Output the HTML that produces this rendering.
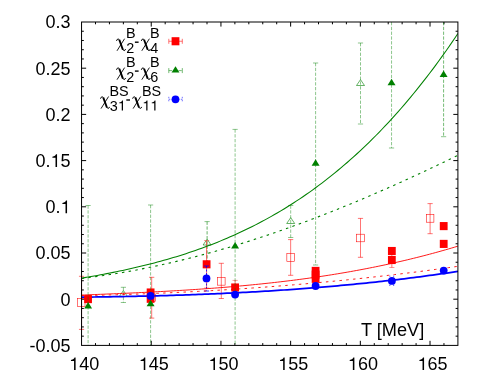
<!DOCTYPE html>
<html><head><meta charset="utf-8"><title>chart</title>
<style>html,body{margin:0;padding:0;background:#fff;}body{width:491px;height:382px;position:relative;overflow:hidden;font-family:"Liberation Sans",sans-serif;}</style>
</head><body>
<svg width="491" height="382" viewBox="0 0 491 382" style="position:absolute;left:0;top:0;font-family:'Liberation Sans',sans-serif">
<rect width="491" height="382" fill="#fff"/>
<defs><clipPath id="cp"><rect x="81.55" y="22.0" width="376.34999999999997" height="323.4"/></clipPath></defs>
<g font-size="18" fill="#000" style="filter:grayscale(1)">
<path d="M75.60,370.10V357.45H74.52C74.32,358.58 73.19,359.57 70.96,359.97V361.01H74.07V370.10Z" fill="#000"/><text x="79.15" y="370.10" font-size="18">40</text>
<path d="M145.29,370.10V357.45H144.21C144.02,358.58 142.88,359.57 140.65,359.97V361.01H143.76V370.10Z" fill="#000"/><text x="148.84" y="370.10" font-size="18">45</text>
<path d="M214.99,370.10V357.45H213.91C213.71,358.58 212.58,359.57 210.34,359.97V361.01H213.46V370.10Z" fill="#000"/><text x="218.53" y="370.10" font-size="18">50</text>
<path d="M284.68,370.10V357.45H283.60C283.41,358.58 282.27,359.57 280.04,359.97V361.01H283.15V370.10Z" fill="#000"/><text x="288.23" y="370.10" font-size="18">55</text>
<path d="M354.38,370.10V357.45H353.30C353.10,358.58 351.97,359.57 349.73,359.97V361.01H352.85V370.10Z" fill="#000"/><text x="357.92" y="370.10" font-size="18">60</text>
<path d="M424.07,370.10V357.45H422.99C422.79,358.58 421.66,359.57 419.43,359.97V361.01H422.54V370.10Z" fill="#000"/><text x="427.62" y="370.10" font-size="18">65</text>
<text x="29.58" y="351.75" font-size="18">-0.05</text>
<text x="60.59" y="305.55" font-size="18">0</text>
<text x="35.57" y="259.35" font-size="18">0.05</text>
<text x="45.58" y="213.15" font-size="18">0.</text><path d="M67.05,213.15V200.50H65.97C65.78,201.63 64.64,202.62 62.41,203.02V204.06H65.52V213.15Z" fill="#000"/>
<text x="35.57" y="166.95" font-size="18">0.</text><path d="M57.05,166.95V154.30H55.97C55.77,155.43 54.63,156.42 52.40,156.82V157.86H55.52V166.95Z" fill="#000"/><text x="60.59" y="166.95" font-size="18">5</text>
<text x="45.58" y="120.75" font-size="18">0.2</text>
<text x="35.57" y="74.55" font-size="18">0.25</text>
<text x="45.58" y="28.35" font-size="18">0.3</text>
<text transform="translate(360.9,336.4) scale(1.012,1.05)" x="0" y="0">T [MeV]</text>
</g>
<path d="M95.49,345.4 v-2.3 M95.49,22.0 v2.3 M109.43,345.4 v-2.3 M109.43,22.0 v2.3 M123.37,345.4 v-2.3 M123.37,22.0 v2.3 M137.31,345.4 v-2.3 M137.31,22.0 v2.3 M151.24,345.4 v-4.6 M151.24,22.0 v4.6 M165.18,345.4 v-2.3 M165.18,22.0 v2.3 M179.12,345.4 v-2.3 M179.12,22.0 v2.3 M193.06,345.4 v-2.3 M193.06,22.0 v2.3 M207.00,345.4 v-2.3 M207.00,22.0 v2.3 M220.94,345.4 v-4.6 M220.94,22.0 v4.6 M234.88,345.4 v-2.3 M234.88,22.0 v2.3 M248.82,345.4 v-2.3 M248.82,22.0 v2.3 M262.76,345.4 v-2.3 M262.76,22.0 v2.3 M276.69,345.4 v-2.3 M276.69,22.0 v2.3 M290.63,345.4 v-4.6 M290.63,22.0 v4.6 M304.57,345.4 v-2.3 M304.57,22.0 v2.3 M318.51,345.4 v-2.3 M318.51,22.0 v2.3 M332.45,345.4 v-2.3 M332.45,22.0 v2.3 M346.39,345.4 v-2.3 M346.39,22.0 v2.3 M360.33,345.4 v-4.6 M360.33,22.0 v4.6 M374.27,345.4 v-2.3 M374.27,22.0 v2.3 M388.21,345.4 v-2.3 M388.21,22.0 v2.3 M402.14,345.4 v-2.3 M402.14,22.0 v2.3 M416.08,345.4 v-2.3 M416.08,22.0 v2.3 M430.02,345.4 v-4.6 M430.02,22.0 v4.6 M443.96,345.4 v-2.3 M443.96,22.0 v2.3 M81.55,336.16 h2.3 M457.9,336.16 h-2.3 M81.55,326.92 h2.3 M457.9,326.92 h-2.3 M81.55,317.68 h2.3 M457.9,317.68 h-2.3 M81.55,308.44 h2.3 M457.9,308.44 h-2.3 M81.55,299.20 h4.6 M457.9,299.20 h-4.6 M81.55,289.96 h2.3 M457.9,289.96 h-2.3 M81.55,280.72 h2.3 M457.9,280.72 h-2.3 M81.55,271.48 h2.3 M457.9,271.48 h-2.3 M81.55,262.24 h2.3 M457.9,262.24 h-2.3 M81.55,253.00 h4.6 M457.9,253.00 h-4.6 M81.55,243.76 h2.3 M457.9,243.76 h-2.3 M81.55,234.52 h2.3 M457.9,234.52 h-2.3 M81.55,225.28 h2.3 M457.9,225.28 h-2.3 M81.55,216.04 h2.3 M457.9,216.04 h-2.3 M81.55,206.80 h4.6 M457.9,206.80 h-4.6 M81.55,197.56 h2.3 M457.9,197.56 h-2.3 M81.55,188.32 h2.3 M457.9,188.32 h-2.3 M81.55,179.08 h2.3 M457.9,179.08 h-2.3 M81.55,169.84 h2.3 M457.9,169.84 h-2.3 M81.55,160.60 h4.6 M457.9,160.60 h-4.6 M81.55,151.36 h2.3 M457.9,151.36 h-2.3 M81.55,142.12 h2.3 M457.9,142.12 h-2.3 M81.55,132.88 h2.3 M457.9,132.88 h-2.3 M81.55,123.64 h2.3 M457.9,123.64 h-2.3 M81.55,114.40 h4.6 M457.9,114.40 h-4.6 M81.55,105.16 h2.3 M457.9,105.16 h-2.3 M81.55,95.92 h2.3 M457.9,95.92 h-2.3 M81.55,86.68 h2.3 M457.9,86.68 h-2.3 M81.55,77.44 h2.3 M457.9,77.44 h-2.3 M81.55,68.20 h4.6 M457.9,68.20 h-4.6 M81.55,58.96 h2.3 M457.9,58.96 h-2.3 M81.55,49.72 h2.3 M457.9,49.72 h-2.3 M81.55,40.48 h2.3 M457.9,40.48 h-2.3 M81.55,31.24 h2.3 M457.9,31.24 h-2.3" stroke="#000" stroke-width="1" fill="none"/>
<path d="M81.55,276.30 V329.40" stroke="#ff0000" stroke-width="0.55" fill="none" opacity="1"/><path d="M78.95,276.30 H84.15" stroke="#ff0000" stroke-width="0.55" opacity="1"/><path d="M78.95,329.40 H84.15" stroke="#ff0000" stroke-width="0.55" opacity="1"/>
<rect x="77.40" y="298.70" width="7.60" height="7.60" fill="none" stroke="#ff0000" stroke-width="0.55"/>
<path d="M151.70,277.30 V318.10" stroke="#ff0000" stroke-width="0.55" fill="none" opacity="1"/><path d="M149.10,277.30 H154.30" stroke="#ff0000" stroke-width="0.55" opacity="1"/><path d="M149.10,318.10 H154.30" stroke="#ff0000" stroke-width="0.55" opacity="1"/>
<rect x="147.90" y="293.90" width="7.60" height="7.60" fill="none" stroke="#ff0000" stroke-width="0.55"/>
<path d="M221.30,263.30 V298.50" stroke="#ff0000" stroke-width="0.55" fill="none" opacity="1"/><path d="M218.70,263.30 H223.90" stroke="#ff0000" stroke-width="0.55" opacity="1"/><path d="M218.70,298.50 H223.90" stroke="#ff0000" stroke-width="0.55" opacity="1"/>
<rect x="217.50" y="277.55" width="7.60" height="7.60" fill="none" stroke="#ff0000" stroke-width="0.55"/>
<path d="M290.65,239.60 V275.30" stroke="#ff0000" stroke-width="0.55" fill="none" opacity="1"/><path d="M288.05,239.60 H293.25" stroke="#ff0000" stroke-width="0.55" opacity="1"/><path d="M288.05,275.30 H293.25" stroke="#ff0000" stroke-width="0.55" opacity="1"/>
<rect x="286.85" y="253.70" width="7.60" height="7.60" fill="none" stroke="#ff0000" stroke-width="0.55"/>
<path d="M360.50,218.40 V257.30" stroke="#ff0000" stroke-width="0.55" fill="none" opacity="1"/><path d="M357.90,218.40 H363.10" stroke="#ff0000" stroke-width="0.55" opacity="1"/><path d="M357.90,257.30 H363.10" stroke="#ff0000" stroke-width="0.55" opacity="1"/>
<rect x="356.70" y="234.20" width="7.60" height="7.60" fill="none" stroke="#ff0000" stroke-width="0.55"/>
<path d="M430.10,203.60 V233.70" stroke="#ff0000" stroke-width="0.55" fill="none" opacity="1"/><path d="M427.50,203.60 H432.70" stroke="#ff0000" stroke-width="0.55" opacity="1"/><path d="M427.50,233.70 H432.70" stroke="#ff0000" stroke-width="0.55" opacity="1"/>
<rect x="426.30" y="214.60" width="7.60" height="7.60" fill="none" stroke="#ff0000" stroke-width="0.55"/>
<path d="M123.40,287.30 V302.50" stroke="#008000" stroke-width="0.45" fill="none" stroke-dasharray="3.3 1.5" opacity="1"/><path d="M120.80,287.30 H126.00" stroke="#008000" stroke-width="0.45" opacity="1"/><path d="M120.80,302.50 H126.00" stroke="#008000" stroke-width="0.45" opacity="1"/>
<path d="M123.40,290.55 L119.40,296.40 H127.40 Z" fill="none" stroke="#008000" stroke-width="0.6"/>
<path d="M207.10,221.60 V265.40" stroke="#008000" stroke-width="0.6" fill="none" stroke-dasharray="3.3 1.5" opacity="1"/><path d="M204.50,221.60 H209.70" stroke="#008000" stroke-width="0.45" opacity="1"/><path d="M204.50,265.40 H209.70" stroke="#008000" stroke-width="0.45" opacity="1"/>
<path d="M207.10,239.15 L203.10,245.00 H211.10 Z" fill="none" stroke="#008000" stroke-width="0.6"/>
<path d="M290.70,205.50 V237.50" stroke="#008000" stroke-width="0.45" fill="none" stroke-dasharray="3.3 1.5" opacity="1"/><path d="M288.10,205.50 H293.30" stroke="#008000" stroke-width="0.45" opacity="1"/><path d="M288.10,237.50 H293.30" stroke="#008000" stroke-width="0.45" opacity="1"/>
<path d="M290.70,217.65 L286.70,223.50 H294.70 Z" fill="none" stroke="#008000" stroke-width="0.6"/>
<path d="M360.50,43.00 V124.00" stroke="#008000" stroke-width="0.45" fill="none" stroke-dasharray="3.3 1.5" opacity="1"/><path d="M357.90,43.00 H363.10" stroke="#008000" stroke-width="0.45" opacity="1"/><path d="M357.90,124.00 H363.10" stroke="#008000" stroke-width="0.45" opacity="1"/>
<path d="M360.50,79.65 L356.50,85.50 H364.50 Z" fill="none" stroke="#008000" stroke-width="0.6"/>
<path d="M206.60,240.60 V288.00" stroke="#ff0000" stroke-width="0.6" fill="none" opacity="1"/><path d="M204.00,240.60 H209.20" stroke="#ff0000" stroke-width="0.4" opacity="1"/><path d="M204.00,288.00 H209.20" stroke="#ff0000" stroke-width="0.4" opacity="1"/>
<rect x="202.70" y="260.25" width="7.80" height="8.10" fill="#ff0000"/>
<path d="M206.50,266.00 V291.00" stroke="#0000ff" stroke-width="0.8" fill="none" stroke-dasharray="2 1.5" opacity="1"/><path d="M203.90,266.00 H209.10" stroke="#0000ff" stroke-width="0.8" opacity="1"/><path d="M203.90,291.00 H209.10" stroke="#0000ff" stroke-width="0.8" opacity="1"/>
<circle cx="206.50" cy="278.40" r="3.9" fill="#0000ff"/>
<g clip-path="url(#cp)">
<path d="M81.55,278.15 L84.71,277.62 L87.88,277.09 L91.04,276.54 L94.20,275.98 L97.36,275.41 L100.53,274.82 L103.69,274.23 L106.85,273.63 L110.01,273.01 L113.18,272.38 L116.34,271.74 L119.50,271.09 L122.66,270.42 L125.83,269.74 L128.99,269.04 L132.15,268.33 L135.31,267.61 L138.48,266.86 L141.64,266.11 L144.80,265.34 L147.96,264.55 L151.13,263.74 L154.29,262.91 L157.45,262.07 L160.62,261.21 L163.78,260.33 L166.94,259.44 L170.10,258.52 L173.27,257.58 L176.43,256.63 L179.59,255.65 L182.75,254.65 L185.92,253.63 L189.08,252.59 L192.24,251.52 L195.40,250.44 L198.57,249.33 L201.73,248.19 L204.89,247.03 L208.05,245.85 L211.22,244.64 L214.38,243.41 L217.54,242.15 L220.70,240.87 L223.87,239.55 L227.03,238.21 L230.19,236.85 L233.36,235.45 L236.52,234.03 L239.68,232.58 L242.84,231.10 L246.01,229.58 L249.17,228.04 L252.33,226.47 L255.49,224.86 L258.66,223.23 L261.82,221.56 L264.98,219.86 L268.14,218.12 L271.31,216.35 L274.47,214.55 L277.63,212.71 L280.79,210.84 L283.96,208.93 L287.12,206.99 L290.28,205.01 L293.44,202.99 L296.61,200.93 L299.77,198.84 L302.93,196.70 L306.09,194.53 L309.26,192.32 L312.42,190.07 L315.58,187.77 L318.75,185.44 L321.91,183.06 L325.07,180.64 L328.23,178.18 L331.40,175.68 L334.56,173.13 L337.72,170.53 L340.88,167.90 L344.05,165.21 L347.21,162.48 L350.37,159.70 L353.53,156.88 L356.70,154.01 L359.86,151.09 L363.02,148.12 L366.18,145.10 L369.35,142.04 L372.51,138.92 L375.67,135.75 L378.83,132.53 L382.00,129.25 L385.16,125.93 L388.32,122.55 L391.49,119.12 L394.65,115.63 L397.81,112.09 L400.97,108.49 L404.14,104.84 L407.30,101.12 L410.46,97.36 L413.62,93.53 L416.79,89.65 L419.95,85.70 L423.11,81.70 L426.27,77.63 L429.44,73.51 L432.60,69.32 L435.76,65.08 L438.92,60.76 L442.09,56.39 L445.25,51.95 L448.41,47.45 L451.57,42.88 L454.74,38.25 L457.90,33.55" stroke="#008000" stroke-width="1.05" fill="none"/>
<path d="M81.55,278.46 L84.71,278.07 L87.88,277.68 L91.04,277.27 L94.20,276.85 L97.36,276.41 L100.53,275.96 L103.69,275.50 L106.85,275.03 L110.01,274.54 L113.18,274.04 L116.34,273.53 L119.50,273.00 L122.66,272.46 L125.83,271.91 L128.99,271.34 L132.15,270.77 L135.31,270.18 L138.48,269.57 L141.64,268.96 L144.80,268.33 L147.96,267.69 L151.13,267.04 L154.29,266.38 L157.45,265.70 L160.62,265.01 L163.78,264.31 L166.94,263.60 L170.10,262.88 L173.27,262.14 L176.43,261.40 L179.59,260.64 L182.75,259.87 L185.92,259.09 L189.08,258.29 L192.24,257.49 L195.40,256.67 L198.57,255.84 L201.73,255.00 L204.89,254.15 L208.05,253.29 L211.22,252.42 L214.38,251.54 L217.54,250.64 L220.70,249.74 L223.87,248.82 L227.03,247.90 L230.19,246.96 L233.36,246.01 L236.52,245.05 L239.68,244.08 L242.84,243.10 L246.01,242.11 L249.17,241.11 L252.33,240.10 L255.49,239.08 L258.66,238.05 L261.82,237.01 L264.98,235.96 L268.14,234.90 L271.31,233.83 L274.47,232.75 L277.63,231.66 L280.79,230.56 L283.96,229.45 L287.12,228.33 L290.28,227.20 L293.44,226.06 L296.61,224.91 L299.77,223.75 L302.93,222.59 L306.09,221.41 L309.26,220.23 L312.42,219.03 L315.58,217.83 L318.75,216.62 L321.91,215.40 L325.07,214.16 L328.23,212.93 L331.40,211.68 L334.56,210.42 L337.72,209.16 L340.88,207.88 L344.05,206.60 L347.21,205.31 L350.37,204.01 L353.53,202.71 L356.70,201.39 L359.86,200.07 L363.02,198.73 L366.18,197.39 L369.35,196.05 L372.51,194.69 L375.67,193.33 L378.83,191.96 L382.00,190.58 L385.16,189.19 L388.32,187.79 L391.49,186.39 L394.65,184.98 L397.81,183.57 L400.97,182.14 L404.14,180.71 L407.30,179.27 L410.46,177.82 L413.62,176.37 L416.79,174.91 L419.95,173.44 L423.11,171.97 L426.27,170.48 L429.44,168.99 L432.60,167.50 L435.76,166.00 L438.92,164.49 L442.09,162.97 L445.25,161.45 L448.41,159.92 L451.57,158.39 L454.74,156.85 L457.90,155.30" stroke="#008000" stroke-width="1.1" fill="none" stroke-dasharray="2.5 4.3"/>
<path d="M81.55,295.07 L84.71,294.95 L87.88,294.83 L91.04,294.70 L94.20,294.58 L97.36,294.45 L100.53,294.32 L103.69,294.19 L106.85,294.06 L110.01,293.93 L113.18,293.80 L116.34,293.67 L119.50,293.53 L122.66,293.39 L125.83,293.25 L128.99,293.11 L132.15,292.97 L135.31,292.82 L138.48,292.67 L141.64,292.52 L144.80,292.37 L147.96,292.21 L151.13,292.05 L154.29,291.89 L157.45,291.72 L160.62,291.55 L163.78,291.38 L166.94,291.21 L170.10,291.03 L173.27,290.85 L176.43,290.66 L179.59,290.47 L182.75,290.28 L185.92,290.08 L189.08,289.88 L192.24,289.68 L195.40,289.47 L198.57,289.25 L201.73,289.03 L204.89,288.81 L208.05,288.58 L211.22,288.35 L214.38,288.11 L217.54,287.87 L220.70,287.62 L223.87,287.36 L227.03,287.11 L230.19,286.84 L233.36,286.57 L236.52,286.29 L239.68,286.01 L242.84,285.72 L246.01,285.43 L249.17,285.13 L252.33,284.82 L255.49,284.51 L258.66,284.19 L261.82,283.87 L264.98,283.53 L268.14,283.19 L271.31,282.85 L274.47,282.49 L277.63,282.13 L280.79,281.76 L283.96,281.39 L287.12,281.01 L290.28,280.62 L293.44,280.22 L296.61,279.81 L299.77,279.40 L302.93,278.98 L306.09,278.55 L309.26,278.11 L312.42,277.66 L315.58,277.20 L318.75,276.74 L321.91,276.27 L325.07,275.79 L328.23,275.30 L331.40,274.80 L334.56,274.29 L337.72,273.77 L340.88,273.24 L344.05,272.71 L347.21,272.16 L350.37,271.61 L353.53,271.04 L356.70,270.46 L359.86,269.88 L363.02,269.28 L366.18,268.68 L369.35,268.06 L372.51,267.43 L375.67,266.80 L378.83,266.15 L382.00,265.49 L385.16,264.82 L388.32,264.14 L391.49,263.45 L394.65,262.75 L397.81,262.03 L400.97,261.31 L404.14,260.57 L407.30,259.82 L410.46,259.06 L413.62,258.29 L416.79,257.50 L419.95,256.71 L423.11,255.90 L426.27,255.08 L429.44,254.24 L432.60,253.40 L435.76,252.54 L438.92,251.67 L442.09,250.78 L445.25,249.89 L448.41,248.97 L451.57,248.05 L454.74,247.11 L457.90,246.16" stroke="#ff0000" stroke-width="0.9" fill="none"/>
<path d="M81.55,295.62 L84.71,295.56 L87.88,295.49 L91.04,295.42 L94.20,295.35 L97.36,295.27 L100.53,295.20 L103.69,295.11 L106.85,295.03 L110.01,294.94 L113.18,294.86 L116.34,294.76 L119.50,294.67 L122.66,294.57 L125.83,294.47 L128.99,294.37 L132.15,294.26 L135.31,294.15 L138.48,294.04 L141.64,293.92 L144.80,293.81 L147.96,293.69 L151.13,293.56 L154.29,293.44 L157.45,293.31 L160.62,293.17 L163.78,293.04 L166.94,292.90 L170.10,292.76 L173.27,292.61 L176.43,292.47 L179.59,292.32 L182.75,292.16 L185.92,292.01 L189.08,291.85 L192.24,291.69 L195.40,291.52 L198.57,291.35 L201.73,291.18 L204.89,291.01 L208.05,290.83 L211.22,290.65 L214.38,290.46 L217.54,290.28 L220.70,290.09 L223.87,289.89 L227.03,289.70 L230.19,289.50 L233.36,289.30 L236.52,289.09 L239.68,288.88 L242.84,288.67 L246.01,288.45 L249.17,288.24 L252.33,288.01 L255.49,287.79 L258.66,287.56 L261.82,287.33 L264.98,287.10 L268.14,286.86 L271.31,286.62 L274.47,286.37 L277.63,286.13 L280.79,285.87 L283.96,285.62 L287.12,285.36 L290.28,285.10 L293.44,284.84 L296.61,284.57 L299.77,284.30 L302.93,284.03 L306.09,283.75 L309.26,283.47 L312.42,283.18 L315.58,282.90 L318.75,282.61 L321.91,282.31 L325.07,282.02 L328.23,281.71 L331.40,281.41 L334.56,281.10 L337.72,280.79 L340.88,280.48 L344.05,280.16 L347.21,279.84 L350.37,279.51 L353.53,279.18 L356.70,278.85 L359.86,278.52 L363.02,278.18 L366.18,277.83 L369.35,277.49 L372.51,277.14 L375.67,276.79 L378.83,276.43 L382.00,276.07 L385.16,275.70 L388.32,275.34 L391.49,274.97 L394.65,274.59 L397.81,274.21 L400.97,273.83 L404.14,273.45 L407.30,273.06 L410.46,272.67 L413.62,272.27 L416.79,271.87 L419.95,271.47 L423.11,271.06 L426.27,270.65 L429.44,270.23 L432.60,269.81 L435.76,269.39 L438.92,268.97 L442.09,268.54 L445.25,268.10 L448.41,267.67 L451.57,267.23 L454.74,266.78 L457.90,266.33" stroke="#ff0000" stroke-width="0.9" fill="none" stroke-dasharray="2.5 4.3"/>
<path d="M81.55,297.15 L84.71,297.12 L87.88,297.08 L91.04,297.04 L94.20,297.00 L97.36,296.96 L100.53,296.92 L103.69,296.87 L106.85,296.82 L110.01,296.77 L113.18,296.72 L116.34,296.67 L119.50,296.61 L122.66,296.56 L125.83,296.50 L128.99,296.43 L132.15,296.37 L135.31,296.30 L138.48,296.23 L141.64,296.16 L144.80,296.09 L147.96,296.01 L151.13,295.94 L154.29,295.85 L157.45,295.77 L160.62,295.69 L163.78,295.60 L166.94,295.51 L170.10,295.41 L173.27,295.32 L176.43,295.22 L179.59,295.12 L182.75,295.01 L185.92,294.90 L189.08,294.79 L192.24,294.68 L195.40,294.56 L198.57,294.45 L201.73,294.32 L204.89,294.20 L208.05,294.07 L211.22,293.94 L214.38,293.81 L217.54,293.67 L220.70,293.53 L223.87,293.39 L227.03,293.24 L230.19,293.09 L233.36,292.93 L236.52,292.78 L239.68,292.62 L242.84,292.45 L246.01,292.29 L249.17,292.12 L252.33,291.94 L255.49,291.76 L258.66,291.58 L261.82,291.40 L264.98,291.21 L268.14,291.02 L271.31,290.82 L274.47,290.62 L277.63,290.42 L280.79,290.21 L283.96,290.00 L287.12,289.78 L290.28,289.56 L293.44,289.34 L296.61,289.11 L299.77,288.88 L302.93,288.65 L306.09,288.41 L309.26,288.16 L312.42,287.92 L315.58,287.66 L318.75,287.41 L321.91,287.15 L325.07,286.88 L328.23,286.61 L331.40,286.34 L334.56,286.06 L337.72,285.78 L340.88,285.49 L344.05,285.20 L347.21,284.90 L350.37,284.60 L353.53,284.30 L356.70,283.99 L359.86,283.67 L363.02,283.36 L366.18,283.03 L369.35,282.70 L372.51,282.37 L375.67,282.03 L378.83,281.69 L382.00,281.34 L385.16,280.98 L388.32,280.63 L391.49,280.26 L394.65,279.89 L397.81,279.52 L400.97,279.14 L404.14,278.76 L407.30,278.37 L410.46,277.97 L413.62,277.57 L416.79,277.17 L419.95,276.76 L423.11,276.34 L426.27,275.92 L429.44,275.49 L432.60,275.06 L435.76,274.62 L438.92,274.18 L442.09,273.73 L445.25,273.28 L448.41,272.82 L451.57,272.35 L454.74,271.88 L457.90,271.40" stroke="#0000ff" stroke-width="1.75" fill="none"/>
</g>
<rect x="84.15" y="295.05" width="7.80" height="8.10" fill="#ff0000"/>
<rect x="146.70" y="288.45" width="7.80" height="8.10" fill="#ff0000"/>
<rect x="146.70" y="294.75" width="7.80" height="8.10" fill="#ff0000"/>
<path d="M235.10,280.40 V294.60" stroke="#ff0000" stroke-width="0.55" fill="none" opacity="1"/><path d="M232.50,280.40 H237.70" stroke="#ff0000" stroke-width="0.4" opacity="1"/><path d="M232.50,294.60 H237.70" stroke="#ff0000" stroke-width="0.4" opacity="1"/>
<rect x="231.20" y="283.45" width="7.80" height="8.10" fill="#ff0000"/>
<rect x="311.70" y="266.85" width="7.80" height="8.10" fill="#ff0000"/>
<rect x="311.70" y="270.55" width="7.80" height="8.10" fill="#ff0000"/>
<rect x="311.70" y="274.75" width="7.80" height="8.10" fill="#ff0000"/>
<rect x="387.95" y="246.95" width="7.80" height="8.10" fill="#ff0000"/>
<path d="M391.85,252.10 V267.50" stroke="#ff0000" stroke-width="0.55" fill="none" opacity="1"/><path d="M389.25,252.10 H394.45" stroke="#ff0000" stroke-width="0.4" opacity="1"/><path d="M389.25,267.50 H394.45" stroke="#ff0000" stroke-width="0.4" opacity="1"/>
<rect x="387.95" y="255.95" width="7.80" height="8.10" fill="#ff0000"/>
<rect x="439.80" y="222.05" width="7.80" height="8.10" fill="#ff0000"/>
<rect x="439.80" y="239.85" width="7.80" height="8.10" fill="#ff0000"/>
<path d="M88.10,205.50 V345.40" stroke="#008000" stroke-width="0.45" fill="none" stroke-dasharray="3.3 1.5" opacity="1"/><path d="M85.50,205.50 H90.70" stroke="#008000" stroke-width="0.45" opacity="1"/>
<path d="M88.10,302.04 L84.12,308.49 H92.08 Z" fill="#008000"/>
<path d="M150.60,205.00 V345.40" stroke="#008000" stroke-width="0.45" fill="none" stroke-dasharray="3.3 1.5" opacity="1"/><path d="M148.00,205.00 H153.20" stroke="#008000" stroke-width="0.45" opacity="1"/>
<path d="M150.60,299.74 L146.62,306.19 H154.58 Z" fill="#008000"/>
<path d="M235.10,129.40 V345.40" stroke="#008000" stroke-width="0.45" fill="none" stroke-dasharray="3.3 1.5" opacity="1"/><path d="M232.50,129.40 H237.70" stroke="#008000" stroke-width="0.45" opacity="1"/>
<path d="M235.10,241.94 L231.12,248.39 H239.08 Z" fill="#008000"/>
<path d="M315.60,63.00 V265.00" stroke="#008000" stroke-width="0.45" fill="none" stroke-dasharray="3.3 1.5" opacity="1"/><path d="M313.00,63.00 H318.20" stroke="#008000" stroke-width="0.45" opacity="1"/><path d="M313.00,265.00 H318.20" stroke="#008000" stroke-width="0.45" opacity="1"/>
<path d="M315.60,159.24 L311.62,165.69 H319.58 Z" fill="#008000"/>
<path d="M391.55,22.00 V148.00" stroke="#008000" stroke-width="0.45" fill="none" stroke-dasharray="3.3 1.5" opacity="1"/><path d="M388.95,148.00 H394.15" stroke="#008000" stroke-width="0.45" opacity="1"/>
<path d="M391.55,78.84 L387.57,85.29 H395.53 Z" fill="#008000"/>
<path d="M443.60,22.00 V136.70" stroke="#008000" stroke-width="0.55" fill="none" stroke-dasharray="3.3 1.5" opacity="1"/><path d="M441.00,136.70 H446.20" stroke="#008000" stroke-width="0.45" opacity="1"/>
<path d="M443.60,70.54 L439.62,76.99 H447.58 Z" fill="#008000"/>
<circle cx="150.60" cy="295.90" r="3.9" fill="#0000ff"/>
<circle cx="235.10" cy="294.60" r="3.9" fill="#0000ff"/>
<circle cx="315.60" cy="286.00" r="3.9" fill="#0000ff"/>
<circle cx="391.90" cy="280.90" r="3.9" fill="#0000ff"/>
<circle cx="443.70" cy="270.60" r="3.9" fill="#0000ff"/>
<path d="M389.2,276.2 h1.2 M393,276.2 h1.2 M389.2,285.4 h1.2 M393,285.4 h1.2" stroke="#0000ff" stroke-width="0.9" opacity="0.7"/>
<rect x="81.55" y="22.0" width="376.34999999999997" height="323.4" stroke="#000" stroke-width="1" fill="none"/>
<g fill="#000" style="filter:grayscale(1)"><g transform="translate(116.0,47.4)" fill="none" stroke="#000"><path d="M0.5,-6.5 Q0.9,-8.4 2.2,-8.4 Q3.0,-8.4 3.6,-7.0" stroke-width="1.0"/><path d="M3.3,-7.6 L6.9,2.3" stroke-width="1.9"/><path d="M6.6,1.6 Q7.3,3.2 8.2,3.2 Q9.2,3.2 9.5,1.7" stroke-width="1.0"/><path d="M8.6,-8.7 L1.0,3.4" stroke-width="0.9"/></g><text x="126.30" y="52.80" font-size="14.4">2</text><text x="126.0" y="38.0" font-size="14.4">B</text><path d="M134.9,42.199999999999996 h3.7" stroke="#000" stroke-width="1.4"/><g transform="translate(140.8,47.4)" fill="none" stroke="#000"><path d="M0.5,-6.5 Q0.9,-8.4 2.2,-8.4 Q3.0,-8.4 3.6,-7.0" stroke-width="1.0"/><path d="M3.3,-7.6 L6.9,2.3" stroke-width="1.9"/><path d="M6.6,1.6 Q7.3,3.2 8.2,3.2 Q9.2,3.2 9.5,1.7" stroke-width="1.0"/><path d="M8.6,-8.7 L1.0,3.4" stroke-width="0.9"/></g><text x="150.30" y="52.80" font-size="14.4">4</text><text x="150.0" y="38.0" font-size="14.4">B</text></g>
<g fill="#000" style="filter:grayscale(1)"><g transform="translate(116.0,76.3)" fill="none" stroke="#000"><path d="M0.5,-6.5 Q0.9,-8.4 2.2,-8.4 Q3.0,-8.4 3.6,-7.0" stroke-width="1.0"/><path d="M3.3,-7.6 L6.9,2.3" stroke-width="1.9"/><path d="M6.6,1.6 Q7.3,3.2 8.2,3.2 Q9.2,3.2 9.5,1.7" stroke-width="1.0"/><path d="M8.6,-8.7 L1.0,3.4" stroke-width="0.9"/></g><text x="126.30" y="81.70" font-size="14.4">2</text><text x="126.0" y="66.89999999999999" font-size="14.4">B</text><path d="M134.9,71.1 h3.7" stroke="#000" stroke-width="1.4"/><g transform="translate(140.8,76.3)" fill="none" stroke="#000"><path d="M0.5,-6.5 Q0.9,-8.4 2.2,-8.4 Q3.0,-8.4 3.6,-7.0" stroke-width="1.0"/><path d="M3.3,-7.6 L6.9,2.3" stroke-width="1.9"/><path d="M6.6,1.6 Q7.3,3.2 8.2,3.2 Q9.2,3.2 9.5,1.7" stroke-width="1.0"/><path d="M8.6,-8.7 L1.0,3.4" stroke-width="0.9"/></g><text x="150.30" y="81.70" font-size="14.4">6</text><text x="150.0" y="66.89999999999999" font-size="14.4">B</text></g>
<g fill="#000" style="filter:grayscale(1)"><g transform="translate(100.0,105.2)" fill="none" stroke="#000"><path d="M0.5,-6.5 Q0.9,-8.4 2.2,-8.4 Q3.0,-8.4 3.6,-7.0" stroke-width="1.0"/><path d="M3.3,-7.6 L6.9,2.3" stroke-width="1.9"/><path d="M6.6,1.6 Q7.3,3.2 8.2,3.2 Q9.2,3.2 9.5,1.7" stroke-width="1.0"/><path d="M8.6,-8.7 L1.0,3.4" stroke-width="0.9"/></g><text x="109.80" y="110.60" font-size="14.4">3</text><path d="M122.98,110.60V100.48H122.11C121.95,101.38 121.05,102.18 119.26,102.49V103.33H121.75V110.60Z" fill="#000"/><text x="109.5" y="95.8" font-size="14.4">BS</text><path d="M126.3,100.0 h3.7" stroke="#000" stroke-width="1.4"/><g transform="translate(132.1,105.2)" fill="none" stroke="#000"><path d="M0.5,-6.5 Q0.9,-8.4 2.2,-8.4 Q3.0,-8.4 3.6,-7.0" stroke-width="1.0"/><path d="M3.3,-7.6 L6.9,2.3" stroke-width="1.9"/><path d="M6.6,1.6 Q7.3,3.2 8.2,3.2 Q9.2,3.2 9.5,1.7" stroke-width="1.0"/><path d="M8.6,-8.7 L1.0,3.4" stroke-width="0.9"/></g><path d="M147.47,110.60V100.48H146.61C146.45,101.38 145.54,102.18 143.75,102.49V103.33H146.25V110.60Z" fill="#000"/><path d="M155.48,110.60V100.48H154.61C154.45,101.38 153.55,102.18 151.76,102.49V103.33H154.25V110.60Z" fill="#000"/><text x="142.0" y="95.8" font-size="14.4">BS</text></g>
<path d="M168.8,41.25 H182.3 M168.8,38.8 V43.8 M182.3,38.8 V43.8" stroke="#ff0000" stroke-width="0.55" fill="none"/>
<rect x="171.60" y="37.20" width="7.80" height="8.10" fill="#ff0000"/>
<path d="M168.8,70.6 H182.3" stroke="#008000" stroke-width="0.55" fill="none" stroke-dasharray="3.3 1.5"/><path d="M168.8,68.1 V73.1 M182.3,68.1 V73.1" stroke="#008000" stroke-width="0.55" fill="none"/>
<path d="M175.50,66.14 L171.52,72.59 H179.48 Z" fill="#008000"/>
<path d="M168.8,99.3 H182.3" stroke="#0000ff" stroke-width="0.55" fill="none" stroke-dasharray="1.5 1.5"/><path d="M168.8,96.8 V101.8 M182.3,96.8 V101.8" stroke="#0000ff" stroke-width="0.55" fill="none" stroke-dasharray="1.5 1.5"/>
<circle cx="175.50" cy="99.30" r="3.9" fill="#0000ff"/>
</svg>
</body></html>
